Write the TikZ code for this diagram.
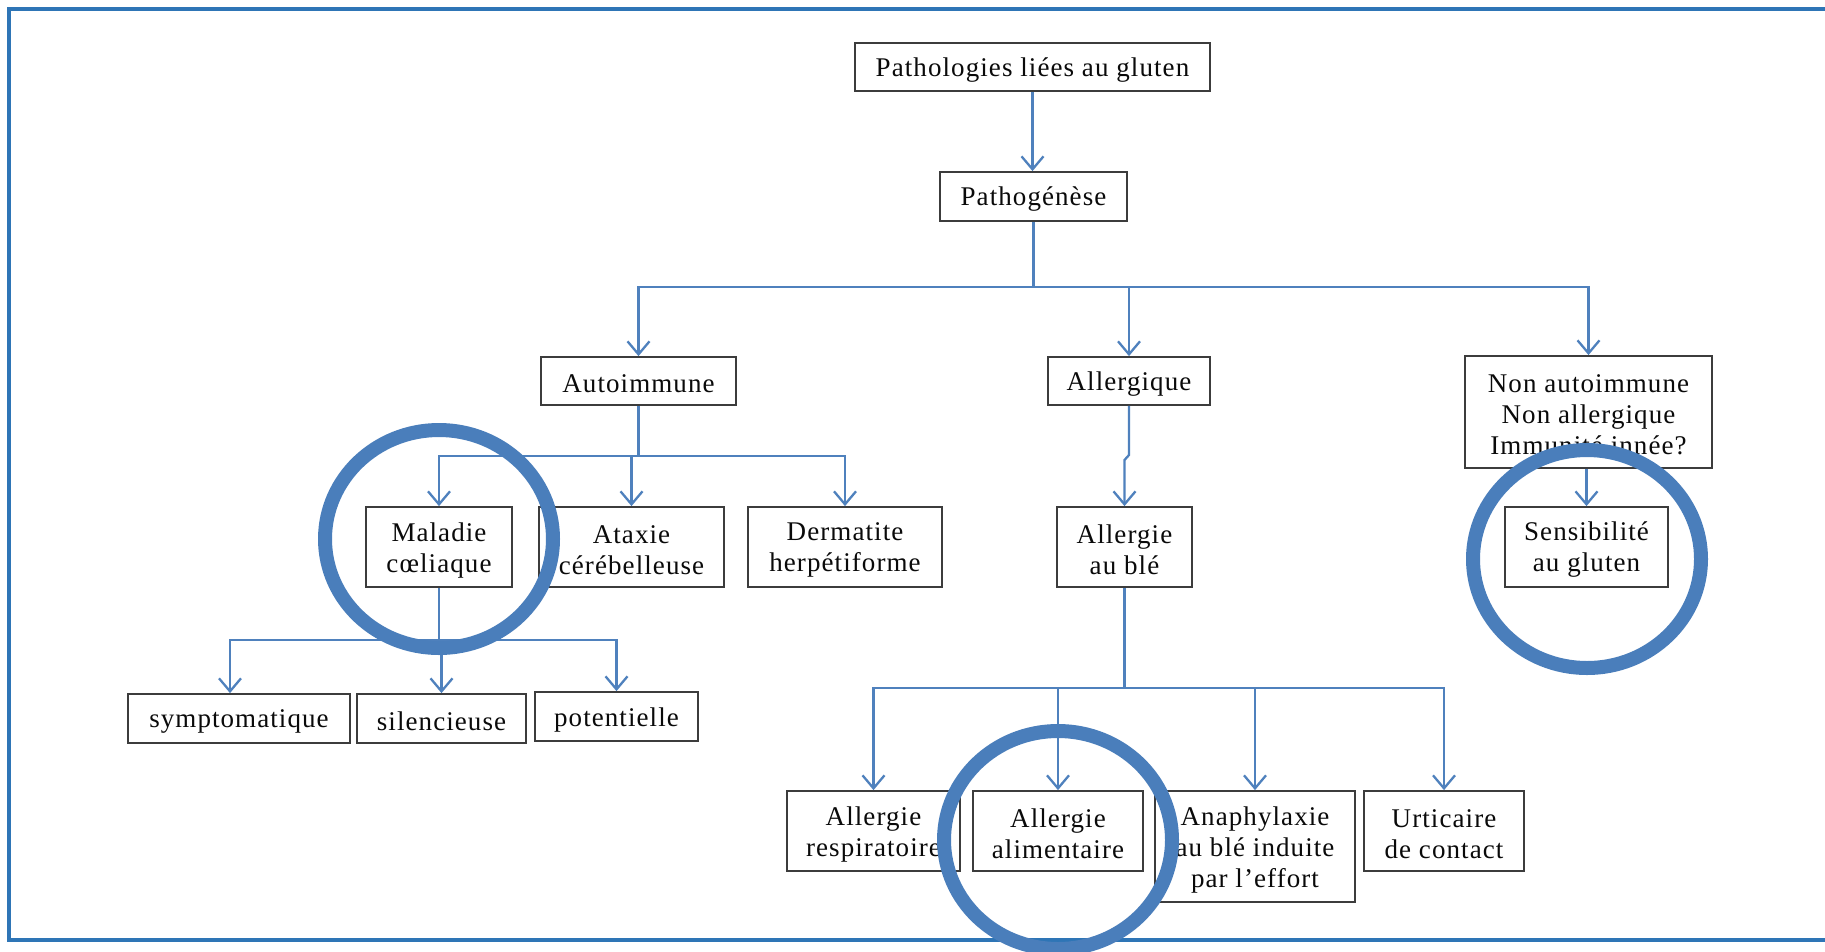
\documentclass[tikz,border=0pt]{standalone}
\usepackage{fontspec}
\setmainfont{Liberation Serif}[LetterSpace=4]
\usetikzlibrary{arrows.meta}
\definecolor{frameblue}{RGB}{46,117,182}
\definecolor{connblue}{RGB}{79,129,189}
\definecolor{ringblue}{RGB}{74,126,187}
\definecolor{boxgray}{RGB}{60,60,60}
\definecolor{txtcol}{RGB}{10,10,10}
\begin{document}
\begin{tikzpicture}[x=1pt,y=-1pt,
  boxtext/.style={inner sep=0pt,align=center,text=txtcol,
    font=\fontsize{27}{31}\selectfont,yshift=-3pt},
  box/.style={draw=boxgray,line width=1.8pt,inner sep=0pt,fill=white,
    label={[boxtext]center:{#1}}},
  conn/.style={draw=connblue,line width=2.3pt},
  arr/.style={conn,-{Straight Barb[length=13pt,width=22pt,line width=2.3pt]}},
  ring/.style={draw=ringblue,line width=14pt},
  framestyle/.style={draw=frameblue,line width=4pt}]
\useasboundingbox (0,0) rectangle (1825,951);
\clip (0,0) rectangle (1825,951);
\fill[white] (0,0) rectangle (1825,951);
\draw[framestyle] (1830,9) -- (9,9) -- (9,940) -- (1830,940);

% nodes
\node[box={Pathologies liées au gluten},minimum width=355,minimum height=48] (patho) at (1032.5,67) {};
\node[box={Pathogénèse},minimum width=187,minimum height=49] (pathog) at (1033.5,196.5) {};
\node[box={Autoimmune},minimum width=195,minimum height=48] (auto) at (638.5,381) {};
\node[box={Allergique},minimum width=162,minimum height=48] (allg) at (1129,381) {};
\node[box={Non autoimmune\\Non allergique\\Immunité innée?},minimum width=247,minimum height=112] (nonauto) at (1588.5,412) {};
\node[box={Maladie\\cœliaque},minimum width=146,minimum height=80] (mal) at (439,547) {};
\node[box={Ataxie\\cérébelleuse},minimum width=185,minimum height=80] (atax) at (631.5,547) {};
\node[box={Dermatite\\herpétiforme},minimum width=194,minimum height=80] (derm) at (845,547) {};
\node[box={Allergie\\au blé},minimum width=135,minimum height=80] (ble) at (1124.5,547) {};
\node[box={Sensibilité\\au gluten},minimum width=163,minimum height=80] (sens) at (1586.5,547) {};
\node[box={symptomatique},minimum width=222,minimum height=49] (sympt) at (239,718.5) {};
\node[box={silencieuse},minimum width=169,minimum height=49] (sil) at (441.5,718.5) {};
\node[box={potentielle},minimum width=163,minimum height=49] (pot) at (616.5,716.5) {};
\node[box={Allergie\\respiratoire},minimum width=173,minimum height=80] (resp) at (873.5,831) {};
\node[box={Allergie\\alimentaire},minimum width=170,minimum height=80] (alim) at (1058,831) {};
\node[box={Anaphylaxie\\au blé induite\\par l’effort},minimum width=200,minimum height=111] (ana) at (1255,846.5) {};
\node[box={Urticaire\\de contact},minimum width=160,minimum height=80] (urt) at (1444,831) {};

% branch points
\coordinate (b1) at (1033.5,287);
\coordinate (b2) at (638.5,456);
\coordinate (b3) at (439,640);
\coordinate (b4) at (1124.5,688);
\coordinate (k1) at (1129,455);
\coordinate (k2) at (1124.5,460);

% connectors
\draw[arr] (patho) -- (patho.south |- pathog.north);
\draw[conn] (pathog.south) -- (b1);
\draw[arr] (b1) -| (auto.north);
\draw[arr] (b1) -| (allg.north);
\draw[arr] (b1) -| (nonauto.north);
\draw[conn] (auto.south) -- (b2);
\draw[arr] (b2) -| (mal.north);
\draw[arr] (b2) -| (atax.north);
\draw[arr] (b2) -| (derm.north);
\draw[arr] (allg.south) -- (k1) -- (k2) -- (ble.north);
\draw[arr] (nonauto.south -| sens.north) -- (sens.north);
\draw[conn] (mal.south) -- (b3);
\draw[arr] (b3) -| ([xshift=-9pt]sympt.north);
\draw[arr] (b3) -| (sil.north);
\draw[arr] (b3) -| (pot.north);
\draw[conn] (ble.south) -- (b4);
\draw[arr] (b4) -| (resp.north);
\draw[arr] (b4) -| (alim.north);
\draw[arr] (b4) -| (ana.north);
\draw[arr] (b4) -| (urt.north);

% highlight rings
\draw[ring] (439,539) ellipse [x radius=114, y radius=109];
\draw[ring] (1587,559) ellipse [x radius=114, y radius=109];
\draw[ring] (1058,840) ellipse [x radius=114, y radius=109];
\end{tikzpicture}
\end{document}
